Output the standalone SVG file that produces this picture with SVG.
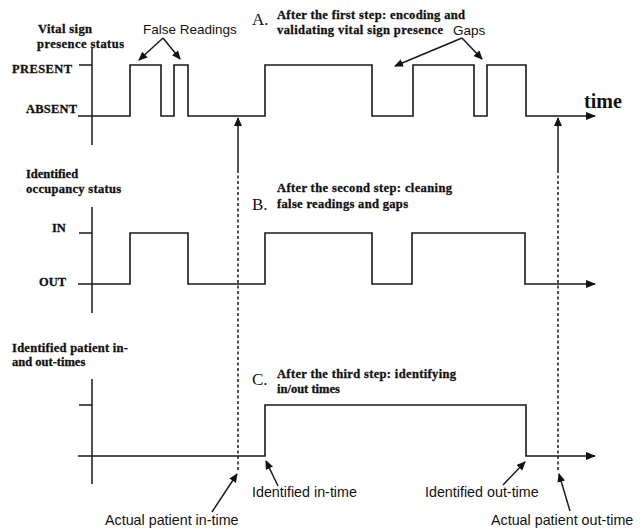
<svg xmlns="http://www.w3.org/2000/svg" width="640" height="528" viewBox="0 0 640 528">
<defs>
<marker id="ah" markerUnits="userSpaceOnUse" markerWidth="10" markerHeight="8" refX="9" refY="4" orient="auto">
<path d="M0,0 L10,4 L0,8 z" fill="#111"/>
</marker>
<marker id="ahs" markerUnits="userSpaceOnUse" markerWidth="9" markerHeight="8" refX="8" refY="4" orient="auto">
<path d="M0,0 L9,4 L0,8 z" fill="#111"/>
</marker>
</defs>
<style>
.sig{fill:none;stroke:#1a1a1a;stroke-width:1.6}
.ax{fill:none;stroke:#1a1a1a;stroke-width:1.5}
.dash{fill:none;stroke:#1a1a1a;stroke-width:1.5;stroke-dasharray:3,2.5}
.ptr{fill:none;stroke:#1a1a1a;stroke-width:1.5}
.lb{font-family:"Liberation Serif","Times New Roman",serif;font-weight:bold;font-size:12.5px;fill:#111;stroke:#111;stroke-width:0.3}
.st{font-family:"Liberation Serif","Times New Roman",serif;font-weight:bold;font-size:12.5px;fill:#111;stroke:#111;stroke-width:0.3}
.let{font-family:"Liberation Serif","Times New Roman",serif;font-size:17px;fill:#111}
.sans{font-family:"Liberation Sans",Arial,sans-serif;font-size:13.5px;fill:#111}
.sansb{font-family:"Liberation Sans",Arial,sans-serif;font-size:14.3px;fill:#111}
.time{font-family:"Liberation Serif","Times New Roman",serif;font-weight:bold;font-size:20px;fill:#111}
</style>
<rect width="640" height="528" fill="#fff"/>

<g id="panelA">
<text class="lb" x="38" y="33" textLength="54">Vital sign</text>
<text class="lb" x="37" y="48" textLength="87">presence status</text>
<text class="lb" x="12" y="73" textLength="60">PRESENT</text>
<text class="lb" x="26" y="113" textLength="51">ABSENT</text>
<path class="ax" d="M92,48 V145 M79,65 H92"/>
<path class="sig" d="M78,116 H130 V65 H161 V116 H174 V65 H188 V116 H265 V65 H372 V116 H413 V65 H474 V116 H487 V65 H526 V116 H595" marker-end="url(#ah)"/>
<text class="let" x="252" y="25">A.</text>
<text class="st" x="277" y="19" textLength="188">After the first step: encoding and</text>
<text class="st" x="277" y="34" textLength="166">validating vital sign presence</text>
<text class="sans" x="143" y="34">False Readings</text>
<text class="sans" x="453" y="35">Gaps</text>
<text class="time" x="584" y="108">time</text>
</g>

<g id="panelB">
<text class="lb" x="26" y="178">Identified</text>
<text class="lb" x="26" y="193" textLength="95">occupancy status</text>
<text class="lb" x="52" y="232">IN</text>
<text class="lb" x="39" y="286">OUT</text>
<path class="ax" d="M92,207 V313 M79,233 H92"/>
<path class="sig" d="M78,284 H130 V233 H188 V284 H265 V233 H372 V284 H412 V233 H525 V284 H595" marker-end="url(#ah)"/>
<text class="let" x="252" y="210">B.</text>
<text class="st" x="277" y="192" textLength="175">After the second step: cleaning</text>
<text class="st" x="277" y="208" textLength="131">false readings and gaps</text>
</g>

<g id="panelC">
<text class="lb" x="12" y="352" textLength="116">Identified patient in-</text>
<text class="lb" x="12" y="366">and out-times</text>
<path class="ax" d="M92,379 V484 M79,405 H92"/>
<path class="sig" d="M78,456 H265 V405 H526 V456 H595" marker-end="url(#ah)"/>
<text class="let" x="252" y="385">C.</text>
<text class="st" x="277" y="378" textLength="179">After the third step: identifying</text>
<text class="st" x="277" y="393">in/out times</text>
</g>

<g id="labels">
<text class="sansb" x="105" y="525">Actual patient in-time</text>
<text class="sansb" x="252" y="497">Identified in-time</text>
<text class="sansb" x="425" y="497">Identified out-time</text>
<text class="sansb" x="491" y="525">Actual patient out-time</text>
</g>

<g id="connectors">
<path class="ptr" d="M238,170 V118" marker-end="url(#ahs)"/>
<path class="dash" d="M238,170 V472"/>
<path class="ptr" d="M558,170 V118" marker-end="url(#ahs)"/>
<path class="dash" d="M558,170 V472"/>
<path class="ptr" d="M163,38 L139,60" marker-end="url(#ahs)"/>
<path class="ptr" d="M163,38 L180,59" marker-end="url(#ahs)"/>
<path class="ptr" d="M462,38 L395,66" marker-end="url(#ahs)"/>
<path class="ptr" d="M462,38 L482,59" marker-end="url(#ahs)"/>
<path class="ptr" d="M212,512 L237,474" marker-end="url(#ahs)"/>
<path class="ptr" d="M278,486 L266,461" marker-end="url(#ahs)"/>
<path class="ptr" d="M503,485 L525,462" marker-end="url(#ahs)"/>
<path class="ptr" d="M570,511 L559,474" marker-end="url(#ahs)"/>
</g>
</svg>
